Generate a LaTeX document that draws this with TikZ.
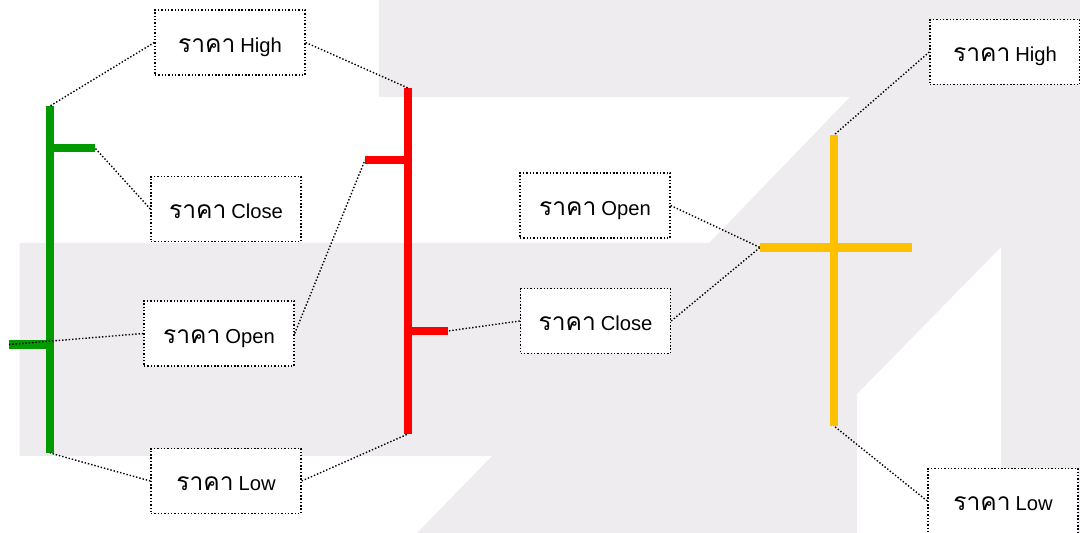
\documentclass[tikz,border=0pt]{standalone}
\usepackage{fontspec}
\setmainfont{Liberation Sans}
\newfontfamily\thaifont[Script=Thai]{Loma}
\usepackage{xcolor}
\usepackage{tikz}
\usetikzlibrary{positioning}
\definecolor{bggray}{RGB}{238,236,238}
\definecolor{upgreen}{RGB}{0,153,0}
\definecolor{dojiyellow}{RGB}{255,192,0}
\newcommand{\price}[1]{{\thaifont\fontsize{14}{16}\selectfont ราคา}\ {\fontsize{11.5}{13}\selectfont #1}}

\begin{document}
\begin{tikzpicture}[x=0.02cm,y=-0.02cm,
  lbl/.style={draw,line width=0.8pt,dash pattern=on 0.8pt off 1.1pt,fill=white,
    minimum width=3cm,minimum height=1.3cm,inner sep=2pt,text height=11pt,text depth=0pt},
  lnk/.style={line width=0.8pt,dash pattern=on 0.8pt off 1.1pt},
  stick/.style={line width=4.6pt}]
 \useasboundingbox (0,0) rectangle (1080,533);
 % watermark in the background
 \fill[bggray] (379,0) -- (1080,0) -- (1080,533) -- (1001,533) -- (1001,247) -- (857,394)
   -- (857,533) -- (417,533) -- (492,456) -- (19.6,456) -- (19.6,243) -- (709,243)
   -- (850,97) -- (379,97) -- cycle;
 % labels
 \node[lbl] (hi1) at (230,42.5) {\price{High}};
 \node[lbl] (cl1) at (226,209) {\price{Close}};
 \node[lbl] (op1) at (219,333.5) {\price{Open}};
 \node[lbl] (lo1) at (226,481) {\price{Low}};
 \node[lbl] (op2) at (595,205.5) {\price{Open}};
 \node[lbl] (cl2) at (595.5,321) {\price{Close}};
 \node[lbl] (hi3) at (1005,52) {\price{High}};
 \node[lbl] (lo3) at (1003,501) {\price{Low}};
 % candles
 \coordinate (gH) at (50,106);  \coordinate (gL) at (50,453);
 \coordinate (gO) at (9,344.5); \coordinate (gC) at (95,148);
 \coordinate (rH) at (408,88);  \coordinate (rL) at (408,434);
 \coordinate (rO) at (365,160); \coordinate (rC) at (448,331);
 \coordinate (yH) at (834,135); \coordinate (yL) at (834,426);
 \coordinate (yO) at (760,247.5); \coordinate (yC) at (912,247.5);
 \draw[stick,upgreen] (gH) -- (gL) (gO) -- (gO -| gH) (gC -| gH) -- (gC);
 \draw[stick,red] (rH) -- (rL) (rO) -- (rO -| rH) (rC -| rH) -- (rC);
 \draw[stick,dojiyellow] (yH) -- (yL) (yO) -- (yC);
 % dotted links
 \foreach \a/\b in {hi1.west/gH,hi1.east/rH,cl1.west/gC,op1.west/gO,op1.east/rO,lo1.west/gL,
   lo1.east/rL,cl2.west/rC,op2.east/yO,cl2.east/yO,hi3.west/yH,lo3.west/yL}
   \draw[lnk] (\a) -- (\b);
\end{tikzpicture}
\end{document}
